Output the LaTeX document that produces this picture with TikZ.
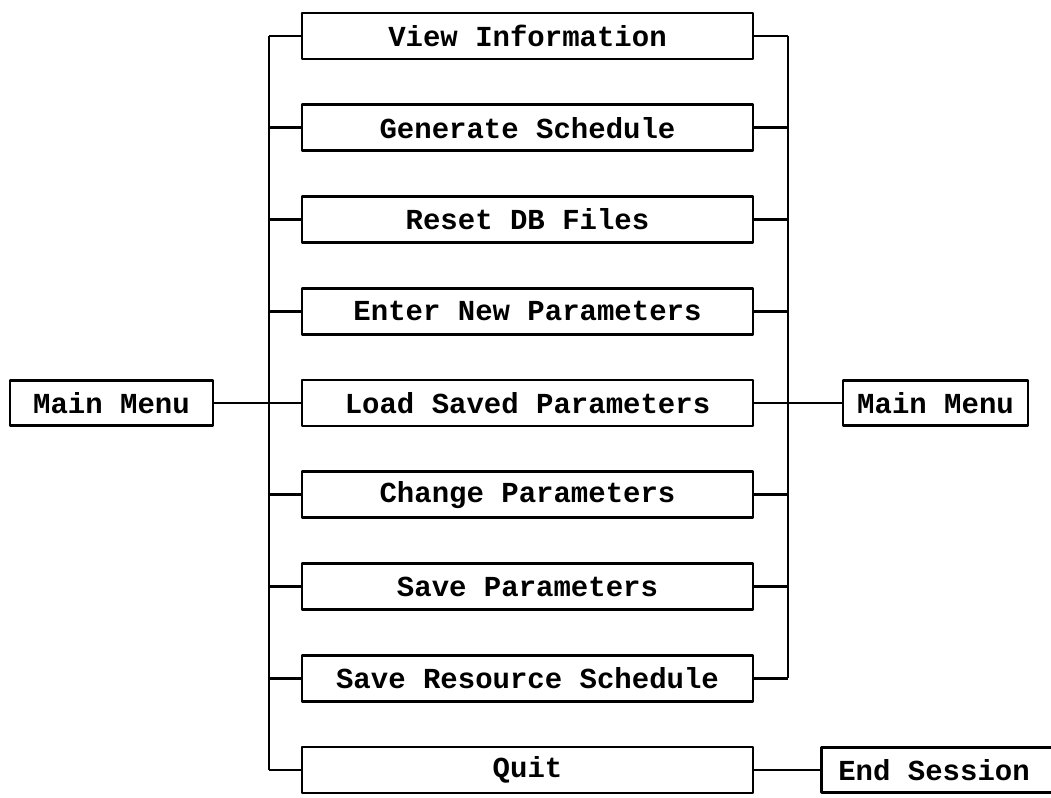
\documentclass[tikz,border=0pt]{standalone}
\usepackage{fontspec}
\setmonofont{Liberation Mono}
\begin{document}
\begin{tikzpicture}[x=1pt,y=-1pt,
  line width=2.6pt,
  menubox/.style={draw, line join=round, minimum width=451pt, minimum height=46pt,
    inner sep=0pt, font=\ttfamily\bfseries\fontsize{29}{32}\selectfont},
  sidebox/.style={draw, line join=round, minimum height=45pt, inner sep=0pt,
    font=\ttfamily\bfseries\fontsize{29}{32}\selectfont},
  wire/.style={line width=2.6pt}]
\useasboundingbox (0,0) rectangle (1051,797);

% submenu column
\node[menubox] (b1) at (527.5,36)     {View Information};
\node[menubox] (b2) at (527.5,127.75) {Generate Schedule};
\node[menubox] (b3) at (527.5,219.5)  {Reset DB Files};
\node[menubox] (b4) at (527.5,311.25) {Enter New Parameters};
\node[menubox] (b5) at (527.5,403)    {Load Saved Parameters};
\node[menubox] (b6) at (527.5,494.75) {Change Parameters};
\node[menubox] (b7) at (527.5,586.5)  {Save Parameters};
\node[menubox] (b8) at (527.5,678.25) {Save Resource Schedule};
\node[menubox] (b9) at (527.5,770)    {Quit};

% side boxes
\node[sidebox, minimum width=203pt] (mmL) at (111.5,403) {Main Menu};
\node[sidebox, minimum width=185pt] (mmR) at (935.5,403) {Main Menu};
% the last box runs past the right border of the page
\node[sidebox, anchor=west, inner xsep=17pt] (endS) at (820,770) {\makebox[280pt][l]{End Session}};

% bus lines
\coordinate (lbus) at (269,0);
\coordinate (rbus) at (788,0);

\draw[wire] (b1.west -| lbus) -- (b9.west -| lbus);
\draw[wire] (b1.east -| rbus) -- (b8.east -| rbus);

\foreach \i in {1,...,9} {
  \draw[wire] (b\i.west) -- (b\i.west -| lbus);
}
\foreach \i in {1,...,8} {
  \draw[wire] (b\i.east) -- (b\i.east -| rbus);
}

\draw[wire] (mmL.east) -- (b5.west);
\draw[wire] (b5.east) -- (mmR.west);
\draw[wire] (b9.east) -- (endS.west);
\end{tikzpicture}
\end{document}
